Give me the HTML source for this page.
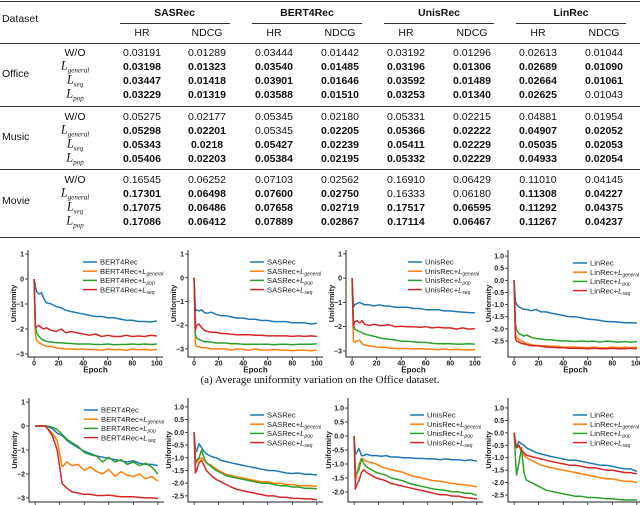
<!DOCTYPE html>
<html><head><meta charset="utf-8">
<style>
body{margin:0;background:#fff;}
#page{position:relative;width:640px;height:505px;overflow:hidden;background:#fff;font-family:"Liberation Sans",sans-serif;color:#111;}
.c{position:absolute;transform:translate(-50%,-50%);white-space:nowrap;font-size:10.5px;line-height:1;}
.b{font-weight:bold;}
.rule{position:absolute;background:#333;}
.lab i{font-family:"Liberation Serif",serif;font-size:12.5px;}
.lab sub{font-family:"Liberation Serif",serif;font-style:italic;font-size:7px;vertical-align:-3px;}
svg text{font-family:"Liberation Sans",sans-serif;}
</style></head>
<body>
<div id="page">
<div id="table"></div>
<svg id="charts" width="640" height="505" style="position:absolute;left:0;top:0"></svg>
</div>
<script>
// ---------- table data ----------
const models=["SASRec","BERT4Rec","UnisRec","LinRec"];
const datasets=["Office","Music","Movie"];
const variants=["W/O","general","seq","pop"];
const officeVals=[
["0.03191","0.01289","0.03444","0.01442","0.03192","0.01296","0.02613","0.01044"],
["0.03198","0.01323","0.03540","0.01485","0.03196","0.01306","0.02689","0.01090"],
["0.03447","0.01418","0.03901","0.01646","0.03592","0.01489","0.02664","0.01061"],
["0.03229","0.01319","0.03588","0.01510","0.03253","0.01340","0.02625","0.01043"]];
const musicVals=[
["0.05275","0.02177","0.05345","0.02180","0.05331","0.02215","0.04881","0.01954"],
["0.05298","0.02201","0.05345","0.02205","0.05366","0.02222","0.04907","0.02052"],
["0.05343","0.0218","0.05427","0.02239","0.05411","0.02229","0.05035","0.02053"],
["0.05406","0.02203","0.05384","0.02195","0.05332","0.02229","0.04933","0.02054"]];
const movieVals=[
["0.16545","0.06252","0.07103","0.02562","0.16910","0.06429","0.11010","0.04145"],
["0.17301","0.06498","0.07600","0.02750","0.16333","0.06180","0.11308","0.04227"],
["0.17075","0.06486","0.07658","0.02719","0.17517","0.06595","0.11292","0.04375"],
["0.17086","0.06412","0.07889","0.02867","0.17114","0.06467","0.11267","0.04237"]];
const officeBold=[[0,0,0,0,0,0,0,0],[1,1,1,1,1,1,1,1],[1,1,1,1,1,1,1,1],[1,1,1,1,1,1,1,0]];
const musicBold=[[0,0,0,0,0,0,0,0],[1,1,0,1,1,1,1,1],[1,1,1,1,1,1,1,1],[1,1,1,1,1,1,1,1]];
const movieBold=[[0,0,0,0,0,0,0,0],[1,1,1,1,0,0,1,1],[1,1,1,1,1,1,1,1],[1,1,1,1,1,1,1,1]];

const T=document.getElementById('table');
function div(cls,x,y,html,name){
  const d=document.createElement('div');
  d.className=cls;d.style.left=x+'px';d.style.top=y+'px';d.innerHTML=html;
  
  
  T.appendChild(d);return d;
}
function rule(x,y,w,h,name){
  const d=document.createElement('div');d.className='rule';
  d.style.left=x+'px';d.style.top=y+'px';d.style.width=w+'px';d.style.height=h+'px';
  
  
  T.appendChild(d);
}
rule(0,0.5,640,1.5,'top-rule');
const d0=div('c',29,19,'Dataset','dataset-header');d0.style.transform='translate(0,-50%)';d0.style.left='2px';
const colX=[142,207,274,340,406,472,538,604];
models.forEach((m,i)=>{
  div('c b',(colX[2*i]+colX[2*i+1])/2,13,m,'model-header');
  rule((colX[2*i]+colX[2*i+1])/2-55,23,110,1,'model-subrule');
  div('c',colX[2*i],33,'HR','hr-header');
  div('c',colX[2*i+1],33,'NDCG','ndcg-header');
});
rule(0,42.5,640,1,'header-rule');
const groups=[[officeVals,officeBold,53,74],[musicVals,musicBold,117,137],[movieVals,movieBold,180,201]];
groups.forEach((g,gi)=>{
  const lbl=div('c',2,g[3],datasets[gi],'dataset-label');lbl.style.transform='translate(0,-50%)';
  for(let r=0;r<4;r++){
    const y=g[2]+r*14;
    const txt=r===0?'W/O':'<i>L</i><sub>'+variants[r]+'</sub>';
    div('c lab',75,y,txt,'variant-label');
    for(let c=0;c<8;c++) div('c'+(g[1][r][c]?' b':''),colX[c],y,g[0][r][c],'metric-cell');
  }
});
rule(0,106,640,1,'office-rule');
rule(0,169,640,1,'music-rule');
rule(0,236.5,640,1.5,'bottom-rule');

// ---------- chart data ----------
const epochs=[0,1,2,4,6,8,10,14,18,22,26,30,35,40,45,50,55,60,65,70,75,80,85,90,95,100];
const xTicks=[0,20,40,60,80,100];
const legendNames=["BERT4Rec","SASRec","UnisRec","LinRec","BERT4Rec","SASRec","UnisRec","LinRec"];
const ticksInt=[1,0,-1,-2,-3];
const ticksHalf=[1.0,0.5,0.0,-0.5,-1.0,-1.5,-2.0,-2.5];
const ticksHalf2=[1.0,0.5,0.0,-0.5,-1.0,-1.5,-2.0];
// office
const c1Base=[0,-0.3,-0.5,-0.6,-0.55,-0.8,-0.95,-1.0,-1.1,-1.15,-1.25,-1.3,-1.35,-1.4,-1.45,-1.5,-1.5,-1.55,-1.55,-1.6,-1.65,-1.65,-1.7,-1.7,-1.72,-1.68];
const c1Gen=[0,-2.2,-2.45,-2.55,-2.6,-2.65,-2.7,-2.7,-2.75,-2.78,-2.8,-2.8,-2.82,-2.8,-2.83,-2.82,-2.85,-2.8,-2.83,-2.82,-2.85,-2.8,-2.83,-2.82,-2.84,-2.82];
const c1Pop=[0,-1.9,-2.15,-2.3,-2.4,-2.45,-2.5,-2.52,-2.55,-2.55,-2.57,-2.58,-2.6,-2.6,-2.6,-2.62,-2.62,-2.6,-2.63,-2.62,-2.62,-2.6,-2.62,-2.6,-2.62,-2.6];
const c1Seq=[0,-1.95,-1.9,-1.85,-1.95,-2.0,-1.95,-2.05,-2.1,-2.0,-2.15,-2.1,-2.15,-2.2,-2.25,-2.2,-2.3,-2.25,-2.3,-2.3,-2.25,-2.3,-2.28,-2.3,-2.25,-2.28];
const c2Base=[0,-1.4,-1.35,-1.4,-1.35,-1.45,-1.5,-1.45,-1.55,-1.6,-1.6,-1.65,-1.7,-1.7,-1.75,-1.75,-1.8,-1.8,-1.85,-1.85,-1.85,-1.9,-1.9,-1.9,-1.95,-1.92];
const c2Gen=[0,-2.8,-2.9,-2.9,-2.95,-2.95,-2.95,-3.0,-3.0,-3.0,-3.0,-3.05,-3.0,-3.02,-3.05,-3.0,-3.05,-3.05,-3.02,-3.05,-3.05,-3.08,-3.05,-3.05,-3.08,-3.05];
const c2Pop=[0,-2.4,-2.55,-2.6,-2.65,-2.7,-2.7,-2.72,-2.75,-2.75,-2.75,-2.78,-2.78,-2.8,-2.8,-2.8,-2.8,-2.8,-2.82,-2.8,-2.8,-2.82,-2.8,-2.8,-2.8,-2.78];
const c2Seq=[0,-2.2,-2.0,-1.95,-2.1,-2.2,-2.25,-2.3,-2.3,-2.35,-2.35,-2.38,-2.4,-2.4,-2.4,-2.42,-2.42,-2.45,-2.45,-2.45,-2.45,-2.47,-2.45,-2.47,-2.45,-2.47];
const c3Base=[0,-1.2,-1.1,-1.05,-1.0,-1.05,-1.1,-1.1,-1.15,-1.1,-1.15,-1.15,-1.2,-1.2,-1.2,-1.25,-1.25,-1.3,-1.3,-1.3,-1.35,-1.35,-1.38,-1.4,-1.42,-1.43];
const c3Gen=[0,-2.6,-2.65,-2.6,-2.55,-2.7,-2.75,-2.8,-2.82,-2.85,-2.85,-2.88,-2.9,-2.9,-2.9,-2.92,-2.9,-2.92,-2.93,-2.95,-2.92,-2.95,-2.93,-2.95,-2.95,-2.95];
const c3Pop=[0,-1.9,-2.1,-2.15,-2.2,-2.25,-2.3,-2.35,-2.4,-2.45,-2.5,-2.52,-2.55,-2.6,-2.6,-2.62,-2.65,-2.65,-2.68,-2.7,-2.7,-2.7,-2.72,-2.72,-2.7,-2.72];
const c3Seq=[0,-2.0,-1.8,-1.75,-1.85,-1.75,-1.9,-1.95,-1.9,-1.95,-1.95,-1.92,-2.0,-1.98,-2.0,-2.0,-2.02,-2.0,-2.05,-2.02,-2.05,-2.05,-2.1,-2.05,-2.1,-2.08];
const c4Base=[0,-0.85,-1.0,-1.1,-1.15,-1.2,-1.2,-1.25,-1.2,-1.3,-1.3,-1.35,-1.4,-1.45,-1.5,-1.5,-1.55,-1.6,-1.62,-1.65,-1.7,-1.7,-1.72,-1.75,-1.75,-1.76];
const c4Gen=[0,-2.2,-2.35,-2.45,-2.5,-2.55,-2.6,-2.65,-2.68,-2.7,-2.7,-2.72,-2.72,-2.75,-2.75,-2.75,-2.77,-2.78,-2.75,-2.78,-2.78,-2.75,-2.78,-2.76,-2.78,-2.75];
const c4Pop=[0,-1.8,-2.05,-2.2,-2.25,-2.3,-2.25,-2.35,-2.4,-2.42,-2.45,-2.45,-2.48,-2.5,-2.5,-2.52,-2.5,-2.52,-2.5,-2.55,-2.5,-2.52,-2.55,-2.52,-2.55,-2.52];
const c4Seq=[0,-2.4,-2.5,-2.55,-2.6,-2.62,-2.65,-2.7,-2.7,-2.72,-2.75,-2.75,-2.78,-2.78,-2.8,-2.8,-2.8,-2.82,-2.8,-2.82,-2.82,-2.8,-2.82,-2.82,-2.8,-2.82];
// music
const c5Base=[0,0,0,0,0,0,-0.02,-0.1,-0.3,-0.4,-0.6,-0.75,-0.9,-1.05,-1.15,-1.25,-1.3,-1.35,-1.4,-1.45,-1.5,-1.45,-1.55,-1.6,-1.6,-1.65];
const c5Gen=[0,0,0,0,0,0,-0.1,-0.3,-0.6,-1.7,-1.5,-1.65,-1.6,-1.85,-1.7,-1.9,-2.0,-1.8,-2.1,-1.9,-2.05,-2.1,-2.0,-2.2,-2.1,-2.3];
const c5Pop=[0,0,0,0,0,0,0,-0.05,-0.15,-0.35,-0.55,-0.7,-0.85,-1.1,-1.2,-1.25,-1.5,-1.3,-1.5,-1.4,-1.6,-1.5,-1.65,-1.55,-1.7,-2.0];
const c5Seq=[0,0,0,0,0,0,-0.1,-0.4,-1.0,-2.4,-2.6,-2.75,-2.8,-2.85,-2.85,-2.9,-2.9,-2.88,-2.92,-2.95,-2.95,-2.95,-2.98,-3.0,-3.0,-3.02];
const c6Base=[0,-0.7,-0.75,-0.45,-0.6,-0.75,-0.85,-0.95,-1.0,-1.1,-1.15,-1.2,-1.25,-1.3,-1.35,-1.4,-1.45,-1.5,-1.5,-1.55,-1.6,-1.62,-1.6,-1.65,-1.65,-1.68];
const c6Gen=[0,-1.1,-1.2,-1.05,-1.0,-1.1,-1.2,-1.3,-1.45,-1.55,-1.65,-1.7,-1.75,-1.8,-1.85,-1.9,-1.95,-1.95,-2.0,-2.0,-2.05,-2.05,-2.1,-2.1,-2.1,-2.12];
const c6Pop=[0,-1.2,-1.1,-1.0,-0.7,-1.0,-1.2,-1.35,-1.5,-1.6,-1.7,-1.75,-1.8,-1.85,-1.9,-1.95,-2.0,-2.0,-2.05,-2.1,-2.1,-2.15,-2.15,-2.2,-2.2,-2.22];
const c6Seq=[0,-1.6,-1.5,-1.2,-1.1,-1.3,-1.5,-1.7,-1.85,-1.95,-2.05,-2.15,-2.25,-2.3,-2.35,-2.4,-2.45,-2.5,-2.5,-2.55,-2.55,-2.6,-2.6,-2.62,-2.62,-2.65];
const c7Base=[0,-0.65,-0.6,-0.45,-0.7,-0.7,-0.65,-0.7,-0.7,-0.72,-0.7,-0.75,-0.75,-0.78,-0.78,-0.8,-0.8,-0.82,-0.82,-0.85,-0.82,-0.85,-0.85,-0.88,-0.85,-0.9];
const c7Gen=[0,-1.6,-1.4,-1.0,-0.8,-0.85,-0.9,-0.95,-1.0,-1.1,-1.15,-1.2,-1.25,-1.3,-1.4,-1.45,-1.5,-1.55,-1.6,-1.62,-1.65,-1.7,-1.72,-1.75,-1.78,-1.82];
const c7Pop=[0,-1.3,-1.35,-1.2,-0.8,-1.0,-1.1,-1.2,-1.3,-1.35,-1.4,-1.5,-1.55,-1.6,-1.7,-1.75,-1.8,-1.85,-1.9,-1.92,-1.95,-2.0,-2.0,-2.05,-2.05,-2.12];
const c7Seq=[0,-1.9,-1.75,-1.6,-1.3,-1.2,-1.3,-1.4,-1.5,-1.55,-1.6,-1.7,-1.75,-1.8,-1.85,-1.9,-1.95,-2.0,-2.05,-2.1,-2.1,-2.15,-2.15,-2.2,-2.22,-2.25];
const c8Base=[0,-0.4,-0.55,-0.35,-0.45,-0.5,-0.6,-0.7,-0.8,-0.85,-0.9,-0.95,-1.0,-1.05,-1.1,-1.1,-1.15,-1.2,-1.25,-1.3,-1.3,-1.35,-1.4,-1.45,-1.45,-1.55];
const c8Gen=[0,-0.3,-0.6,-0.5,-0.8,-0.9,-1.0,-1.1,-1.2,-1.3,-1.35,-1.4,-1.45,-1.5,-1.55,-1.6,-1.65,-1.7,-1.75,-1.8,-1.85,-1.85,-1.9,-1.95,-1.95,-2.0];
const c8Pop=[0,-1.0,-1.7,-1.2,-0.6,-1.6,-1.9,-2.0,-2.1,-2.2,-2.3,-2.35,-2.4,-2.45,-2.5,-2.55,-2.55,-2.6,-2.6,-2.62,-2.65,-2.65,-2.68,-2.7,-2.7,-2.7];
const c8Seq=[0,-0.4,-0.6,-0.5,-0.7,-0.8,-0.9,-0.95,-1.0,-1.05,-1.1,-1.15,-1.2,-1.25,-1.3,-1.3,-1.35,-1.4,-1.4,-1.45,-1.5,-1.5,-1.55,-1.6,-1.6,-1.65];

const colors=["#1f77b4","#ff7f0e","#2ca02c","#d62728"];
const suffix=["","general","pop","seq"];
const charts=[
 {L:28,T:250,B:357,ymin:-3.12,ymax:1.16,yt:ticksInt,dec:0,s:[c1Base,c1Gen,c1Pop,c1Seq],lx:55,ly:262,xl:true},
 {L:188,T:250,B:357,ymin:-3.34,ymax:1.17,yt:ticksInt,dec:0,s:[c2Base,c2Gen,c2Pop,c2Seq],lx:62,ly:262,xl:true},
 {L:346,T:250,B:357,ymin:-3.25,ymax:1.16,yt:ticksInt,dec:0,s:[c3Base,c3Gen,c3Pop,c3Seq],lx:62,ly:262,xl:true},
 {L:508,T:250,B:357,ymin:-3.16,ymax:1.25,yt:ticksHalf,dec:1,s:[c4Base,c4Gen,c4Pop,c4Seq],lx:65,ly:263,xl:true},
 {L:29,T:398,B:502,ymin:-3.17,ymax:1.17,yt:ticksInt,dec:0,s:[c5Base,c5Gen,c5Pop,c5Seq],lx:55,ly:410,xl:false},
 {L:188,T:398,B:502,ymin:-2.74,ymax:1.35,yt:ticksHalf,dec:1,s:[c6Base,c6Gen,c6Pop,c6Seq],lx:62,ly:415,xl:false},
 {L:348,T:398,B:502,ymin:-2.36,ymax:1.36,yt:ticksHalf2,dec:1,s:[c7Base,c7Gen,c7Pop,c7Seq],lx:62,ly:415,xl:false},
 {L:508,T:398,B:502,ymin:-2.78,ymax:1.4,yt:ticksHalf,dec:1,s:[c8Base,c8Gen,c8Pop,c8Seq],lx:65,ly:415,xl:false}
];
const NS='http://www.w3.org/2000/svg';
const svg=document.getElementById('charts');
function mk(tag,attrs,parent){const e=document.createElementNS(NS,tag);for(const k in attrs)e.setAttribute(k,attrs[k]);(parent||svg).appendChild(e);return e;}
const W=135;
charts.forEach((c,ci)=>{
  const g=mk('g',{});
  
  
  const xs=v=>c.L+(v+5)/110*W;
  const ys=v=>c.T+(c.ymax-v)/(c.ymax-c.ymin)*(c.B-c.T);
  const sp=mk('path',{d:`M${c.L},${c.T}V${c.B}H${c.L+W}`,stroke:'#222',fill:'none','stroke-width':1},g);
  
  
  c.yt.forEach(t=>{
    const y=ys(t);
    mk('line',{x1:c.L-3,x2:c.L,y1:y,y2:y,stroke:'#222','stroke-width':0.8},g);
    const tx=mk('text',{x:c.L-4,y:y+2.5,'font-size':7,'font-weight':'bold','text-anchor':'end',fill:'#222'},g);
    tx.textContent=c.dec?t.toFixed(1):String(t).replace('-','\u2212');
    
    
  });
  xTicks.forEach(t=>{
    const x=xs(t);
    mk('line',{x1:x,x2:x,y1:c.B,y2:c.B+3,stroke:'#222','stroke-width':0.8},g);
    if(c.xl){
      const tx=mk('text',{x:x,y:c.B+8.5,'font-size':7,'font-weight':'bold','text-anchor':'middle',fill:'#222'},g);
      tx.textContent=t;
      
      
    }
  });
  if(c.xl){
    const et=mk('text',{x:c.L+W/2,y:c.B+15.5,'font-size':8,'font-weight':'bold','text-anchor':'middle',fill:'#222'},g);
    et.textContent='Epoch';
    
    
  }
  const yc=(c.T+c.B)/2, yx=c.L-(c.dec?17:12);
  const yt=mk('text',{x:yx,y:yc,'font-size':7.5,'font-weight':'bold','text-anchor':'middle',fill:'#222',transform:`rotate(-90 ${yx} ${yc})`},g);
  yt.textContent='Uniformity';
  
  
  c.s.forEach((arr,si)=>{
    const d=arr.map((v,i)=>(i?'L':'M')+xs(epochs[i]).toFixed(1)+','+ys(v).toFixed(1)).join('');
    const p=mk('path',{d:d,stroke:colors[si],fill:'none','stroke-width':1.5,'stroke-linejoin':'round'},g);
    
    
  });
  c.s.forEach((arr,si)=>{
    const y=c.ly+si*9.2, x=c.L+c.lx;
    mk('line',{x1:x,x2:x+14,y1:y,y2:y,stroke:colors[si],'stroke-width':1.5},g);
    const t=mk('text',{x:x+17,y:y+2.7,'font-size':7.6,fill:'#222'},g);
    
    
    t.textContent=legendNames[ci]+(si?'+':'');
    if(si){
      const l=mk('tspan',{'font-style':'italic'},t);l.textContent='L';
      const s=mk('tspan',{'font-style':'italic','font-size':5,dy:1.5},t);s.textContent=suffix[si];
    }
  });
});
const cap=mk('text',{x:320,y:383,'font-size':11,'text-anchor':'middle',fill:'#111'});
cap.setAttribute('style','font-family:"Liberation Serif",serif');
cap.textContent='(a) Average uniformity variation on the Office dataset.';


</script>
</body></html>
